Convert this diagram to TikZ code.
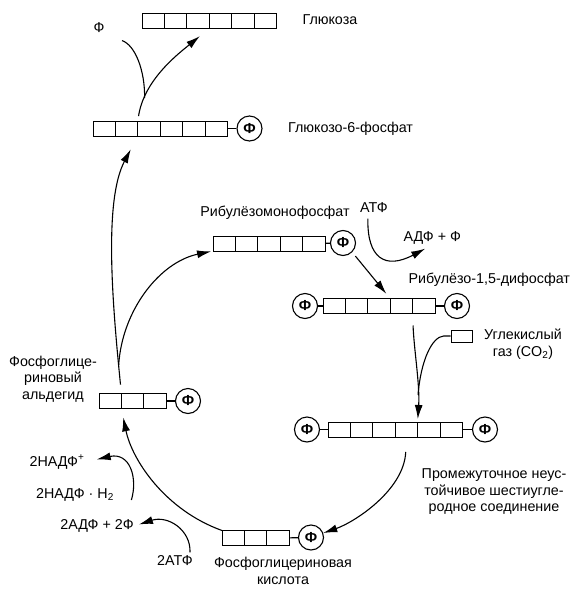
\documentclass[tikz,border=0pt]{standalone}
\usepackage{fontspec}
\setmainfont{Liberation Sans}
\usepackage{tikz}
\usetikzlibrary{arrows.meta, positioning}

\begin{document}
\begin{tikzpicture}[
            x=1pt, y=-1pt,
            line width=1.1pt,
            cell/.style={rectangle, draw, line width=0.9pt, minimum width=22.4pt, minimum height=15pt, inner sep=0pt, outer sep=0pt},
            phos/.style={circle, draw, minimum size=25pt, inner sep=0pt, font=\fontsize{14.5}{14.5}\selectfont\bfseries},
            lbl/.style={inner sep=0pt, font=\fontsize{14.3}{16.5}\selectfont},
            flow/.style={-{Latex[length=14pt, width=8pt]}}
        ]
        \useasboundingbox (0,0) rectangle (585,590);

        % Glucose
        \foreach \i in {1,...,6}
            \node[cell] (glu\i) at ({142+22.4*(\i-0.5)},21) {};
        \node[lbl, anchor=west] (glulbl) at (302,20) {Глюкоза};
        \node[lbl] (phfree) at (99,28) {Ф};

        % Glucose-6-phosphate
        \foreach \i in {1,...,6}
            \node[cell] (gsp\i) at ({93+22.4*(\i-0.5)},128.5) {};
        \node[phos] (gspP) at (249.5,128.5) {Ф};
        \draw (gsp6) -- (gspP);
        \node[lbl, right=25pt of gspP] (gsplbl) {Глюкозо-6-фосфат};

        % Ribulose monophosphate
        \foreach \i in {1,...,5}
            \node[cell] (rmp\i) at ({213+22.4*(\i-0.5)},243.5) {};
        \node[phos] (rmpP) at (343,243) {Ф};
        \draw (rmp5) -- (rmpP);
        \node[lbl] (rmplbl) at (275,213) {Рибулёзомонофосфат};
        \node[lbl] (atp) at (374,208) {АТФ};
        \node[lbl, anchor=west] (adp) at (403,238) {АДФ + Ф};

        % Ribulose-1,5-bisphosphate
        \foreach \i in {1,...,5}
            \node[cell] (rbp\i) at ({323+22.4*(\i-0.5)},306) {};
        \node[phos] (rbpL) at (305,306) {Ф};
        \node[phos] (rbpR) at (457,306) {Ф};
        \draw (rbpL) -- (rbp1);
        \draw (rbp5) -- (rbpR);
        \node[lbl, anchor=west] (rbplbl) at (408,280) {Рибулёзо-1,5-дифосфат};

        % Carbon dioxide
        \node[rectangle, draw, line width=0.9pt, minimum width=21pt, minimum height=12pt, inner sep=0pt] (co2) at (461.5,336) {};
        \node[lbl, align=center] (co2lbl) at (523,344) {Углекислый\\газ (CO\textsubscript{2})};

        % Six-carbon intermediate
        \foreach \i in {1,...,6}
            \node[cell] (six\i) at ({328+22.4*(\i-0.5)},429.5) {};
        \node[phos] (sixL) at (307,429.5) {Ф};
        \node[phos] (sixR) at (485,429.5) {Ф};
        \draw (sixL) -- (six1);
        \draw (six6) -- (sixR);
        \node[lbl, align=center] (sixlbl) at (494,492) {Промежуточное неус-\\тойчивое шестиугле-\\родное соединение};

        % Phosphoglyceric acid
        \foreach \i in {1,...,3}
            \node[cell] (pga\i) at ({222+22.4*(\i-0.5)},538) {};
        \node[phos] (pgaP) at (311,537.5) {Ф};
        \draw (pga3) -- (pgaP);
        \node[lbl, align=center] (pgalbl) at (283,571) {Фосфоглицериновая\\кислота};

        % Phosphoglyceraldehyde
        \foreach \i in {1,...,3}
            \node[cell] (pgl\i) at ({99+22.4*(\i-0.5)},401) {};
        \node[phos] (pglP) at (188,401) {Ф};
        \draw (pgl3) -- (pglP);
        \node[lbl, align=center] (pgllbl) at (53,379) {Фосфоглице-\\риновый\\альдегид};

        % Cofactors
        \node[lbl] (nadp) at (57,462) {2НАДФ\textsuperscript{+}};
        \node[lbl] (nadph) at (75,495) {2НАДФ · H\textsubscript{2}};
        \node[lbl] (adp2) at (97,526) {2АДФ + 2Ф};
        \node[lbl] (atp2) at (175,561) {2АТФ};

        % Connections
        \draw[flow, shorten <=9pt, shorten >=15pt] (pgl1.north east) .. controls (112,300) and (104,200) .. (gsp2.south east) coordinate[pos=0.1] (split);
        \draw[flow, shorten >=2pt] (split) .. controls (122,310) and (160,262) .. (rmp1.south west);
        \draw[flow, shorten <=5pt, shorten >=12pt] (gsp2.north east) .. controls (144,80) and (178,54) .. (glu3.south east) coordinate[pos=0.2] (pjoin);
        \draw (pjoin) .. controls (145,70) and (135,45) .. ([xshift=17pt, yshift=-7pt]phfree.south east);
        \draw[flow, shorten <=5pt, shorten >=6pt] (rmpP.south east) -- (rbp3.north east);
        \draw[flow, shorten <=5pt, shorten >=8pt] ([xshift=-6pt]atp.south) .. controls (367,258) and (385,270) .. (adp.south);
        \draw[flow, shorten <=12pt, shorten >=3pt] (rbp4.south east) .. controls (414,350) and (420,385) .. (six4.north east) coordinate[pos=0.75] (cjoin);
        \draw (co2.west) -- ++(-7,0) .. controls (432,337) and (421,360) .. (cjoin);
        \draw[flow, shorten <=15pt] (six4.south) .. controls (404,490) and (355,522) .. (pgaP.20);
        \draw[flow, shorten >=9pt] (pga1.north west) .. controls (165,510) and (132,460) .. (pgl2.south west);
        \draw[flow, shorten >=12pt] ([xshift=17pt, yshift=-5pt]nadph.east) .. controls (138,478) and (130,452) .. (nadp.east);
        \draw[flow, shorten >=5pt] ([xshift=15pt, yshift=3pt]atp2.north) .. controls (191,530) and (168,515) .. (adp2.east);

    \end{tikzpicture}
\end{document}
